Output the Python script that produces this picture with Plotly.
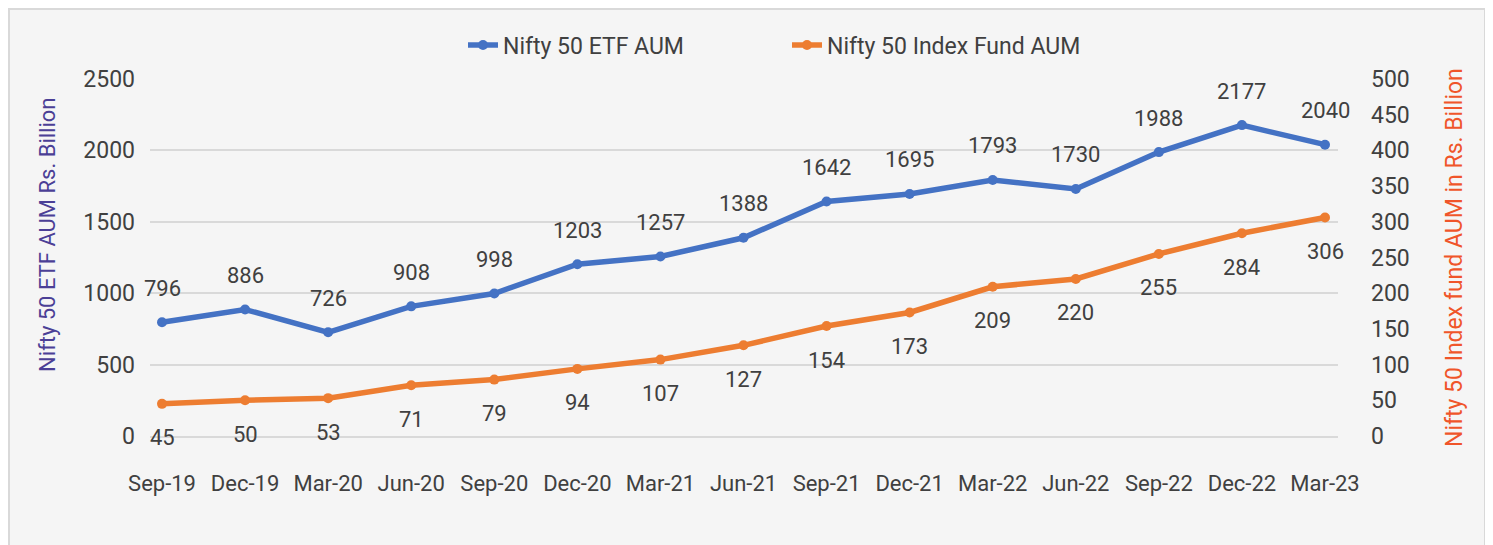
import plotly.graph_objects as go

categories = ["Sep-19", "Dec-19", "Mar-20", "Jun-20", "Sep-20", "Dec-20", "Mar-21", "Jun-21",
              "Sep-21", "Dec-21", "Mar-22", "Jun-22", "Sep-22", "Dec-22", "Mar-23"]
etf_aum = [796, 886, 726, 908, 998, 1203, 1257, 1388, 1642, 1695, 1793, 1730, 1988, 2177, 2040]
index_fund_aum = [45, 50, 53, 71, 79, 94, 107, 127, 154, 173, 209, 220, 255, 284, 306]

BLUE = "#4472C4"
ORANGE = "#ED7D31"
TXT = "#404040"
FONT = "Roboto, 'Liberation Sans', sans-serif"

OFF = 8  # page body margin
W, H = 1493 - OFF, 545 - OFF
# plot area in reference-screen pixels
L, R, T, B = 150 - OFF, 1338 - OFF, 79 - OFF, 436 - OFF

def px_x(p):
    return (p - OFF - L) / (R - L)

def px_y(p):
    return (B - (p - OFF)) / (B - T)

fig = go.Figure()
fig.add_trace(go.Scatter(
    x=categories, y=etf_aum, name="Nifty 50 ETF AUM", mode="lines+markers",
    line=dict(color=BLUE, width=5.5), marker=dict(size=10, color=BLUE),
    yaxis="y", cliponaxis=False))
fig.add_trace(go.Scatter(
    x=categories, y=index_fund_aum, name="Nifty 50 Index Fund AUM", mode="lines+markers",
    line=dict(color=ORANGE, width=5.5), marker=dict(size=10, color=ORANGE),
    yaxis="y2", cliponaxis=False))

annotations = []
for c, v in zip(categories, etf_aum):
    annotations.append(dict(x=c, y=v, xref="x", yref="y", text=str(v), showarrow=False,
                            yshift=34, font=dict(size=22, color=TXT, family=FONT)))
for c, v in zip(categories, index_fund_aum):
    annotations.append(dict(x=c, y=v, xref="x", yref="y2", text=str(v), showarrow=False,
                            yshift=-34, font=dict(size=22, color=TXT, family=FONT)))

annotations.append(dict(x=px_x(47), y=px_y(235), xref="paper", yref="paper",
                        xanchor="center", yanchor="middle",
                        text="Nifty 50 ETF AUM Rs. Billion", textangle=-90, showarrow=False,
                        font=dict(size=22, color="#4B3F96", family=FONT)))
annotations.append(dict(x=px_x(1454), y=px_y(258), xref="paper", yref="paper",
                        xanchor="center", yanchor="middle",
                        text="Nifty 50 Index fund AUM in Rs. Billion", textangle=-90, showarrow=False,
                        font=dict(size=23, color="#F0552A", family=FONT)))

n = len(categories)
p_first, p_last = 162 - OFF, 1325 - OFF
step = (p_last - p_first) / (n - 1)
x_lo = -(p_first - L) / step
x_hi = (n - 1) + (R - p_last) / step

fig.update_layout(
    width=W, height=H,
    margin=dict(l=L, r=W - R, t=T, b=H - B),
    paper_bgcolor="white", plot_bgcolor="rgba(0,0,0,0)",
    font=dict(family=FONT, color=TXT, size=22),
    showlegend=True,
    legend=dict(orientation="h", x=px_x(463), xanchor="left", y=px_y(45), yanchor="middle",
                font=dict(size=23, color=TXT), bgcolor="rgba(0,0,0,0)",
                entrywidth=279, entrywidthmode="pixels"),
    xaxis=dict(type="category", range=[x_lo, x_hi], showgrid=False, showline=True,
               linecolor="#D9D9D9", linewidth=1.5, ticks="", ticklabelstandoff=27,
               tickfont=dict(size=22, color=TXT)),
    yaxis=dict(range=[0, 2500], dtick=500, showgrid=True, gridcolor="#D9D9D9", gridwidth=1.5,
               zeroline=False, ticks="", ticklabelstandoff=14, tickfont=dict(size=23, color=TXT)),
    yaxis2=dict(range=[0, 500], dtick=50, overlaying="y", side="right", showgrid=False,
                zeroline=False, ticks="", ticklabelstandoff=32, tickfont=dict(size=23, color=TXT)),
    annotations=annotations,
    shapes=[dict(type="rect", xref="paper", yref="paper", layer="below",
                 x0=px_x(9), x1=px_x(1485), y0=px_y(570), y1=px_y(9),
                 fillcolor="#F5F5F5", line=dict(color="#D9D9D9", width=2))],
)

fig.write_html("out.html")
